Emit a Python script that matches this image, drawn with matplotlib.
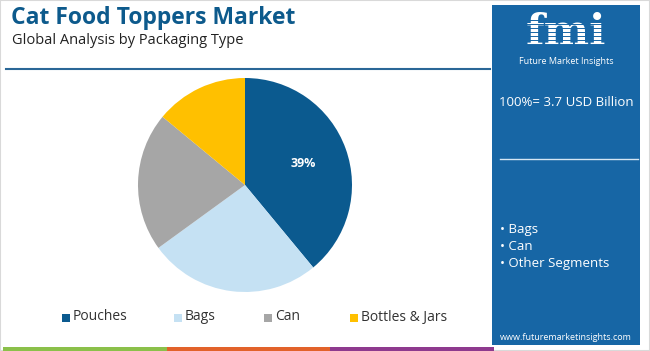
import matplotlib
matplotlib.use('Agg')
import matplotlib.pyplot as plt
import numpy as np
from matplotlib.patches import Rectangle

plt.rcParams['font.family'] = ['Open Sans', 'DejaVu Sans']

# data
segments = ['Pouches', 'Bags', 'Can', 'Bottles & Jars']
shares = [39, 26, 21, 14]
colors = ['#0b5a8f', '#c5e1f3', '#a6a6a6', '#ffc000']
shown_labels = ['39%', '', '', '']
panel_items = ['Bags', 'Can', 'Other Segments']
total_text = '100%= 3.7 USD Billion'

W, H = 650, 351
fig = plt.figure(figsize=(W / 100, H / 100), dpi=100)
fig.patch.set_facecolor('white')


def px(x, y):
    # pixel (from top-left) -> figure fraction
    return x / W, 1 - y / H


# frame
fig.patches.append(Rectangle((0, 0), 1, 1, transform=fig.transFigure,
                             fill=False, ec='#d9d9d9', lw=1.5))

# title block
fig.text(*px(11, 18), 'Cat Food Toppers Market', fontsize=16.5, fontweight='bold',
         color='#0d5a8c', ha='left', va='center')
fig.text(*px(12, 40), 'Global Analysis by Packaging Type', fontsize=10.5,
         color='#222222', ha='left', va='center')
fig.add_artist(plt.Line2D([6 / W, 490 / W], [1 - 69 / H] * 2,
                          transform=fig.transFigure, color='#2a6797', lw=1.5))

# bottom colour strip
for x0, x1, c in [(3, 167, '#8bc04a'), (167, 330, '#e2622a'), (330, 494, '#8e3a8e')]:
    fig.patches.append(Rectangle((x0 / W, 0), (x1 - x0) / W, 4 / H,
                                 transform=fig.transFigure, color=c, lw=0))

# right panel
panel = '#1766a5'
fig.patches.append(Rectangle((492 / W, 6 / H), 148 / W, 340 / H,
                             transform=fig.transFigure, color=panel, lw=0))
fig.text(*px(566, 33), 'fmi', fontsize=31, fontweight='bold', family='DejaVu Serif',
         color='white', ha='center', va='center')
for yy in range(20, 52, 4):
    fig.add_artist(plt.Line2D([512 / W, 622 / W], [1 - yy / H] * 2, zorder=5,
                              transform=fig.transFigure, color=panel, lw=0.7))
fig.text(*px(566, 61), 'Future Market Insights', fontsize=6.5, color='white',
         ha='center', va='center')
fig.text(*px(566, 102), total_text, fontsize=9.5, color='white',
         ha='center', va='center')
fig.add_artist(plt.Line2D([500 / W, 638 / W], [1 - 159 / H] * 2,
                          transform=fig.transFigure, color='#d6e6f3', lw=1))
for i, item in enumerate(panel_items):
    fig.text(*px(500, 229 + i * 17), '\u2022 ' + item, fontsize=9.5, color='white',
             ha='left', va='center')
fig.text(*px(566, 338), 'www.futuremarketinsights.com', fontsize=6.5, color='white',
         ha='center', va='center')

# pie
ax = fig.add_axes([138 / W, 59 / H, 214 / W, 214 / H])
wedges, texts = ax.pie(shares, colors=colors, startangle=90, counterclock=False,
                       wedgeprops=dict(lw=0))
for w, lab in zip(wedges, shown_labels):
    if lab:
        ang = np.deg2rad((w.theta1 + w.theta2) / 2)
        ax.text(0.58 * np.cos(ang), 0.58 * np.sin(ang), lab, color='white',
                fontsize=9, fontweight='bold', ha='center', va='center')
ax.set_xlim(-1, 1)
ax.set_ylim(-1, 1)
ax.set_aspect('equal')

# legend
leg_x = [62, 174, 264, 350]
for x, name, c in zip(leg_x, segments, colors):
    fig.patches.append(Rectangle((x / W, 1 - 322 / H), 8 / W, 8 / H,
                                 transform=fig.transFigure, color=c, lw=0))
    fig.text(*px(x + 11, 317), name, fontsize=10, color='#333333',
             ha='left', va='center')

plt.savefig('out.png', dpi=100)
